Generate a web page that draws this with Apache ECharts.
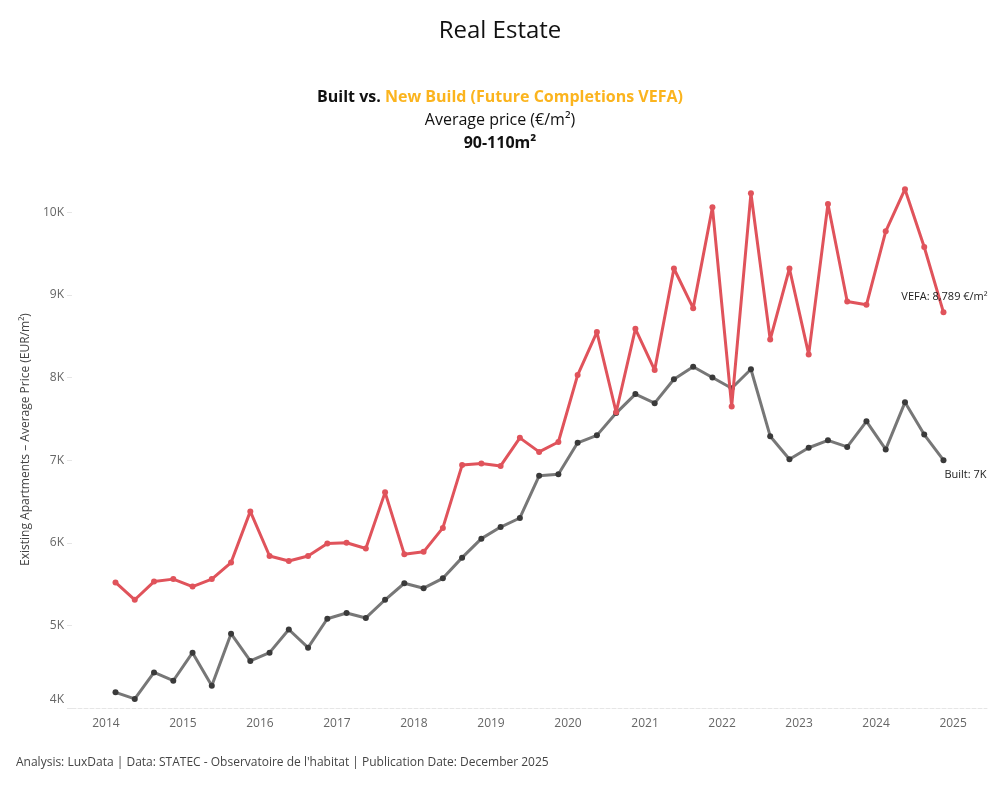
<!DOCTYPE html>
<html>
<head>
<meta charset="utf-8">
<title>Real Estate</title>
<script src="https://cdn.jsdelivr.net/npm/echarts@6/dist/echarts.min.js"></script>
<style>
  html, body { margin: 0; padding: 0; background: #fff; }
  #container { width: 1000px; height: 800px; }
</style>
</head>
<body>
<div id="container"></div>
<script>
// quarters 2014Q1 .. 2024Q4
var years = [2014, 2015, 2016, 2017, 2018, 2019, 2020, 2021, 2022, 2023, 2024];
var quarters = [1, 2, 3, 4];

// Built (existing apartments), EUR/m2
var builtValues = [
  4190, 4110, 4430, 4330, 4670, 4270, 4900, 4570, 4670, 4950,
  4730, 5080, 5150, 5090, 5310, 5510, 5450, 5570, 5820, 6050,
  6190, 6300, 6810, 6830, 7210, 7300, 7570, 7800, 7690, 7980,
  8130, 8000, 7870, 8100, 7290, 7010, 7150, 7240, 7160, 7470,
  7130, 7700, 7310, 7000
];

// VEFA (new build, future completions), EUR/m2
var vefaValues = [
  5520, 5310, 5530, 5560, 5470, 5560, 5760, 6380, 5840, 5780,
  5840, 5990, 6000, 5930, 6610, 5860, 5890, 6180, 6940, 6960,
  6930, 7270, 7100, 7220, 8030, 8550, 7580, 8590, 8090, 9320,
  8840, 10060, 7650, 10230, 8460, 9320, 8280, 10100, 8920, 8880,
  9770, 10280, 9580, 8789
];

var yTicks = [4000, 5000, 6000, 7000, 8000, 9000, 10000];

// mid-quarter position in decimal years
var xPos = [];
for (var i = 0; i < years.length; i++) {
  for (var j = 0; j < quarters.length; j++) {
    xPos.push(years[i] + (quarters[j] - 0.5) / 4);
  }
}

function pairs(vals, lastLabel) {
  var out = [];
  for (var k = 0; k < vals.length; k++) {
    var item = { value: [xPos[k], vals[k]] };
    if (k == vals.length - 1) item.label = lastLabel;
    out.push(item);
  }
  return out;
}

var FONT = "'Open Sans', 'Noto Sans', sans-serif";

var dom = document.getElementById("container");
var myChart = echarts.init(dom, null, { renderer: 'canvas' });

var option = {
  backgroundColor: '#fff',
  animation: false,
  textStyle: { fontFamily: FONT },
  title: [
    {
      text: 'Real Estate',
      left: 'center',
      top: 14,
      textStyle: { fontFamily: FONT, fontSize: 24, fontWeight: 'normal', color: '#111' }
    },
    {
      text: "Analysis: LuxData | Data: STATEC - Observatoire de l'habitat | Publication Date: December 2025",
      left: 11,
      top: 752,
      textStyle: { fontFamily: FONT, fontSize: 12, fontWeight: 'normal', color: '#444' }
    }
  ],
  graphic: [
    {
      type: 'text',
      x: 500,
      y: 86,
      silent: true,
      style: {
        text: '{b|Built vs. }{o|New Build (Future Completions VEFA)}\n{n|Average price (€/m²)}\n{b|90-110m²}',
        align: 'center',
        verticalAlign: 'top',
        fontFamily: FONT,
        fontSize: 16,
        lineHeight: 23,
        rich: {
          b: { fontFamily: FONT, fontSize: 16, fontWeight: 'bold', fill: '#111', lineHeight: 23 },
          o: { fontFamily: FONT, fontSize: 16, fontWeight: 'bold', fill: '#FBB41E', lineHeight: 23 },
          n: { fontFamily: FONT, fontSize: 16, fontWeight: 'normal', fill: '#111', lineHeight: 23 }
        }
      }
    }
  ],
  grid: { left: 72, right: 13, top: 171, bottom: 92, containLabel: false },
  xAxis: {
    type: 'value',
    min: 2013.56,
    max: 2025.44,
    splitNumber: 12,
    axisLine: { show: true, lineStyle: { color: '#e6e6e6', type: 'dashed', width: 1 } },
    axisTick: { show: false },
    splitLine: { show: false },
    axisLabel: {
      showMinLabel: false,
      showMaxLabel: false,
      color: '#666',
      fontSize: 12,
      fontFamily: FONT,
      margin: 10,
      formatter: function (v) { return Math.abs(v - Math.round(v)) < 1e-6 ? String(Math.round(v)) : ''; }
    }
  },
  yAxis: {
    type: 'value',
    min: 4000,
    max: 10500,
    interval: 1000,
    name: 'Existing Apartments – Average Price (EUR/m²)',
    nameLocation: 'middle',
    nameRotate: 90,
    nameGap: 26,
    nameTextStyle: { fontFamily: FONT, fontSize: 12, color: '#444' },
    axisLine: { show: false },
    axisTick: { show: true, length: 5, lineStyle: { color: '#e6e6e6' } },
    splitLine: { show: false },
    axisLabel: {
      showMaxLabel: false,
      color: '#666',
      fontSize: 12,
      fontFamily: FONT,
      margin: 8,
      formatter: function (v) {
        if (yTicks.indexOf(v) < 0) return '';
        // bottom label sits a little above its tick
        if (v == yTicks[0]) return '{lo|' + (v / 1000) + 'K}';
        return (v / 1000) + 'K';
      },
      rich: {
        lo: { color: '#666', fontSize: 12, fontFamily: FONT, padding: [0, 0, 16, 0] }
      }
    }
  },
  series: [
    {
      name: 'Built',
      type: 'line',
      data: pairs(builtValues, {
        show: true,
        position: 'bottom',
        distance: 6,
        offset: [22, 0],
        fontFamily: FONT,
        fontSize: 11,
        color: '#222',
        formatter: function (p) { return 'Built: ' + Math.round(p.value[1] / 1000) + 'K'; }
      }),
      symbol: 'circle',
      symbolSize: 6,
      z: 2,
      lineStyle: { color: 'rgba(85,85,85,0.8)', width: 3 },
      itemStyle: { color: '#3a3a3a' }
    },
    {
      name: 'VEFA',
      type: 'line',
      data: pairs(vefaValues, {
        show: true,
        position: 'top',
        distance: 7,
        offset: [1, 0],
        fontFamily: FONT,
        fontSize: 11,
        color: '#222',
        formatter: function (p) { return 'VEFA: ' + p.value[1].toLocaleString('en-US') + ' €/m²'; }
      }),
      symbol: 'circle',
      symbolSize: 6,
      z: 3,
      lineStyle: { color: '#E0535B', width: 3 },
      itemStyle: { color: '#E0535B' }
    }
  ]
};

if (option && typeof option === "object") {
  myChart.setOption(option, true);
}
</script>
</body>
</html>
